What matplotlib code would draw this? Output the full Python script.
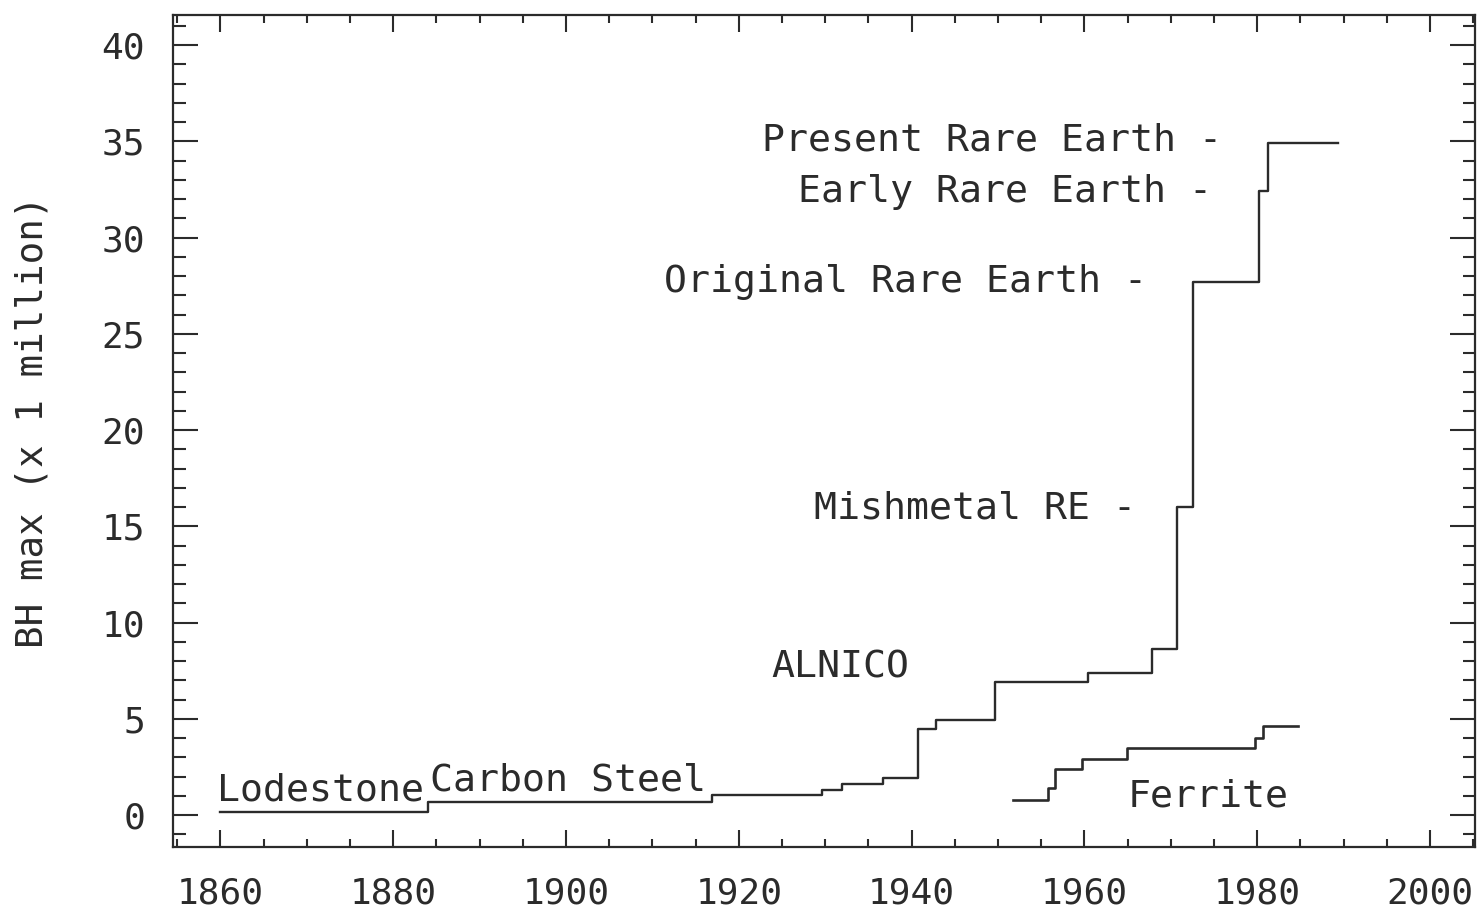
import matplotlib
matplotlib.use('Agg')
import matplotlib.pyplot as plt
from matplotlib.ticker import MultipleLocator

# step curves (year, BH max in millions)
main_years = [1860, 1884.0, 1916.9, 1929.6, 1931.9, 1936.7, 1940.7, 1942.8,
              1949.6, 1960.4, 1967.8, 1970.7, 1972.6, 1980.2, 1981.2, 1989.3]
main_bh = [0.16, 0.68, 1.04, 1.3, 1.6, 1.92, 4.47, 4.93,
           6.9, 7.4, 8.6, 16.0, 27.7, 32.4, 34.9, 34.9]

ferrite_years = [1951.7, 1955.8, 1956.6, 1959.7, 1964.9, 1979.7, 1980.7, 1984.7]
ferrite_bh = [0.78, 1.4, 2.4, 2.9, 3.5, 4.0, 4.6, 4.6]

# labels: (text, x, y, horizontal alignment)
labels = [
    ('Present Rare Earth -', 1975.9, 35.06, 'right'),
    ('Early Rare Earth -', 1974.75, 32.36, 'right'),
    ('Original Rare Earth -', 1967.2, 27.7, 'right'),
    ('Mishmetal RE -', 1965.95, 15.9, 'right'),
    ('ALNICO', 1931.7, 7.64, 'center'),
    ('Lodestone', 1859.65, 1.25, 'left'),
    ('Carbon Steel', 1884.2, 1.82, 'left'),
    ('Ferrite', 1965.0, 0.94, 'left'),
]

ink = '#2b2b2b'
plt.rcParams['font.family'] = ['DejaVu Sans Mono']
plt.rcParams['text.color'] = ink

fig = plt.figure(figsize=(14.77, 9.09), dpi=100)
ax = fig.add_axes([0.1171, 0.0682, 0.8815, 0.9153])

ax.step(main_years, main_bh, where='post', color=ink, lw=1.7)
ax.step(ferrite_years, ferrite_bh, where='post', color=ink, lw=1.9)

for text, x, y, ha in labels:
    ax.text(x, y, text, ha=ha, va='center', fontsize=27.5, color=ink)

ax.set_xlim(1854.5, 2005.2)
ax.set_ylim(-1.66, 41.56)
ax.xaxis.set_major_locator(MultipleLocator(20))
ax.xaxis.set_minor_locator(MultipleLocator(5))
ax.yaxis.set_major_locator(MultipleLocator(5))
ax.yaxis.set_minor_locator(MultipleLocator(1))

ax.tick_params(axis='both', which='both', direction='in', colors=ink,
               top=True, right=True, labelsize=26, width=1.5)
ax.tick_params(axis='y', which='major', length=18, pad=20)
ax.tick_params(axis='y', which='minor', length=9)
ax.tick_params(axis='x', which='major', length=12, pad=21)
ax.tick_params(axis='x', which='minor', length=6)

for sp in ax.spines.values():
    sp.set_color(ink)
    sp.set_linewidth(1.6)

ax.set_ylabel('BH max (x 1 million)', fontsize=27, color=ink)
ax.yaxis.set_label_coords(-0.094, 0.511)

fig.savefig('out.png', dpi=100)
